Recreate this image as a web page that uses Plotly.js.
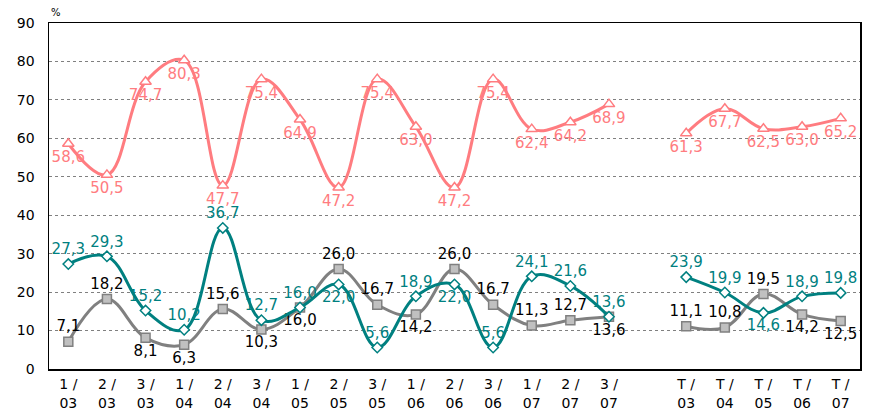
<!DOCTYPE html>
<html>
<head>
<meta charset="utf-8">
<script src="https://cdn.plot.ly/plotly-3.0.1.min.js"></script>
<style>html,body{margin:0;padding:0;background:#fff;}#chart{width:869px;height:416px;}</style>
</head>
<body>
<div id="chart"></div>
<script>
// Category labels ('' marks the empty slot between the quarters and the yearly totals)
const categories = ['1 /<br>03','2 /<br>03','3 /<br>03','1 /<br>04','2 /<br>04','3 /<br>04','1 /<br>05','2 /<br>05','3 /<br>05','1 /<br>06','2 /<br>06','3 /<br>06','1 /<br>07','2 /<br>07','3 /<br>07','','T /<br>03','T /<br>04','T /<br>05','T /<br>06','T /<br>07'];

const pinkValues = [58.6,50.5,74.7,80.3,47.7,75.4,64.9,47.2,75.4,63.0,47.2,75.4,62.4,64.2,68.9,null,61.3,67.7,62.5,63.0,65.2];
const tealValues = [27.3,29.3,15.2,10.2,36.7,12.7,16.0,22.0,5.6,18.9,22.0,5.6,24.1,21.6,13.6,null,23.9,19.9,14.6,18.9,19.8];
const grayValues = [7.1,18.2,8.1,6.3,15.6,10.3,16.0,26.0,16.7,14.2,26.0,16.7,11.3,12.7,13.6,null,11.1,10.8,19.5,14.2,12.5];

const yTicks = [0,10,20,30,40,50,60,70,80,90];

// label placement (style, kept apart from the data)
const A = 'top center', B = 'bottom center';
const pinkLabelPos = categories.map(() => B);
const tealLabelPos = [A,A,A,A,A,A,A,B,A,A,B,A,A,A,A,A,A,A,B,A,A];
const grayLabelPos = [A,A,B,B,A,B,B,A,A,B,A,A,A,A,B,A,A,A,A,B,B];

const xs = categories.map((c, i) => i);
const fmt = v => v == null ? '' : v.toFixed(1).replace('.', ',');

function series(vals, color, textColor, symbol, fill, size, pos) {
  return {
    x: xs, y: vals, type: 'scatter', mode: 'lines+markers+text',
    line: {color: color, width: 3, shape: 'spline', smoothing: 1.1},
    marker: {symbol: symbol, size: size, color: fill, line: {color: color, width: 1.5}},
    text: vals.map(fmt), textposition: pos,
    textfont: {family: 'DejaVu Sans, Verdana, sans-serif', size: 15, color: textColor},
    connectgaps: false, cliponaxis: false, hoverinfo: 'none', showlegend: false
  };
}

const data = [
  series(grayValues, '#808080', '#000000', 'square', '#c0c0c0', 9, grayLabelPos),
  series(tealValues, '#008080', '#008080', 'diamond', '#ffffff', 8, tealLabelPos),
  series(pinkValues, '#ff7c80', '#ff7c80', 'triangle-up', '#ffffff', 10, pinkLabelPos)
];

const layout = {
  width: 869, height: 416,
  margin: {l: 49, r: 9, t: 23, b: 47},
  paper_bgcolor: '#fff', plot_bgcolor: '#fff',
  font: {family: 'DejaVu Sans, Verdana, sans-serif', color: '#000'},
  xaxis: {
    range: [-0.5, categories.length - 0.5],
    tickvals: xs, ticktext: categories,
    showgrid: false, zeroline: false,
    showline: true, linecolor: '#000', linewidth: 1.5, mirror: true,
    ticks: '', ticklabelstandoff: 2, tickfont: {size: 14}
  },
  yaxis: {
    range: [0, 90], tickvals: yTicks,
    showgrid: true, gridcolor: '#808080', gridwidth: 1, griddash: 'dot',
    zeroline: false,
    showline: true, linecolor: '#000', linewidth: 1.5, mirror: true,
    ticks: '', ticklabelstandoff: 10, tickfont: {size: 14}
  },
  annotations: [{
    text: '%', xref: 'paper', yref: 'paper', x: 0, y: 1, xanchor: 'left', yanchor: 'bottom',
    xshift: 0, yshift: 3, showarrow: false, font: {size: 10}
  }]
};

Plotly.newPlot('chart', data, layout, {staticPlot: true, displayModeBar: false});
</script>
</body>
</html>
